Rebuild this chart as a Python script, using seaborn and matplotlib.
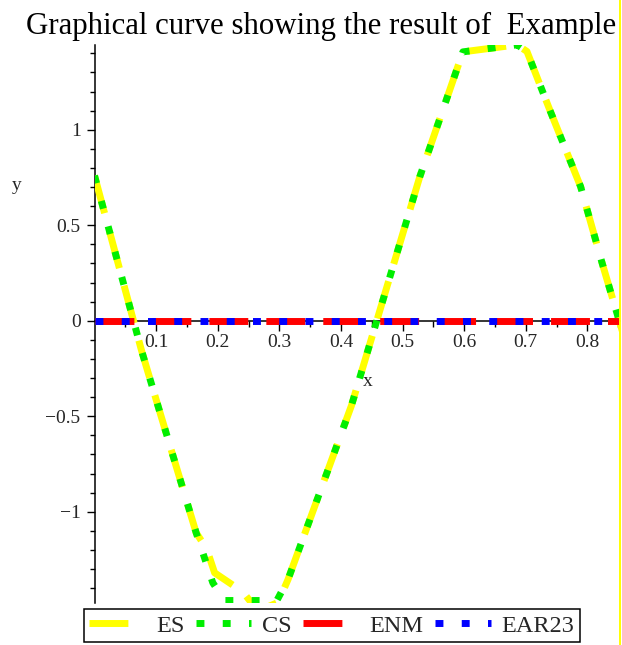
import numpy as np
import pandas as pd
import matplotlib
matplotlib.use("Agg")
import matplotlib.pyplot as plt
from matplotlib.ticker import MultipleLocator, FixedLocator
from matplotlib.lines import Line2D
import seaborn as sns

# ---------------- data ----------------
es_x = [0.000, 0.076, 0.103, 0.165, 0.182, 0.195, 0.241, 0.265, 0.298, 0.314,
        0.417, 0.528, 0.598, 0.686, 0.702, 0.740, 0.789, 0.824, 0.848, 0.862]
es_y = [0.760, -0.152, -0.445, -1.110, -1.194, -1.320, -1.420, -1.520, -1.475, -1.356,
        -0.445, 0.754, 1.408, 1.445, 1.410, 1.096, 0.703, 0.302, 0.040, -0.110]

cs_x = [0.000, 0.076, 0.103, 0.165, 0.192, 0.211, 0.250, 0.296, 0.314,
        0.417, 0.528, 0.598, 0.686, 0.702, 0.740, 0.789, 0.824, 0.848, 0.862]
cs_y = [0.760, -0.152, -0.445, -1.110, -1.372, -1.465, -1.465, -1.465, -1.356,
        -0.445, 0.754, 1.408, 1.445, 1.410, 1.096, 0.703, 0.302, 0.040, -0.110]

enm_x = [0.0, 0.2, 0.4, 0.6, 0.8, 0.862]
enm_y = [0.0, 0.0, 0.0, 0.0, 0.0, 0.0]
ear_x = [0.0, 0.2, 0.4, 0.6, 0.8, 0.862]
ear_y = [0.0, 0.0, 0.0, 0.0, 0.0, 0.0]

series_names = ["ES", "CS", "ENM", "EAR23"]
series_colors = ["#ffff00", "#00ee00", "#ff0000", "#0000ff"]

title_text = "Graphical curve showing the result of  Example"
xtick_vals = [0.1, 0.2, 0.3, 0.4, 0.5, 0.6, 0.7, 0.8]
ytick_vals = [-1, -0.5, 0, 0.5, 1]
ytick_labels = ["\u22121", "\u22120.5", "0", "0.5", "1"]

# ---------------- build long-form table ----------------
frames = []
for name, xs, ys in [("ES", es_x, es_y), ("CS", cs_x, cs_y),
                     ("ENM", enm_x, enm_y), ("EAR23", ear_x, ear_y)]:
    frames.append(pd.DataFrame({"x": xs, "y": ys, "series": name}))
df = pd.concat(frames, ignore_index=True)

sns.set_theme(style="white")
plt.rcParams["font.family"] = ["Liberation Serif", "DejaVu Serif"]
plt.rcParams["axes.unicode_minus"] = True

W, H = 622, 645
fig = plt.figure(figsize=(W / 100, H / 100), dpi=100)
ax_left, ax_right = 94.5 / W, 620 / W
ax_top, ax_bot = 45 / H, 603 / H
ax = fig.add_axes([ax_left, 1 - ax_bot, ax_right - ax_left, ax_bot - ax_top])

dash_solidish = (5.6, 2.6)
dash_dot = (1.14, 2.64)
sns.lineplot(data=df, x="x", y="y", hue="series", style="series",
             hue_order=series_names, style_order=series_names,
             palette=dict(zip(series_names, series_colors)),
             dashes={"ES": dash_solidish, "CS": dash_dot,
                     "ENM": dash_solidish, "EAR23": dash_dot},
             linewidth=5.0, estimator=None, sort=True, legend=False, ax=ax)
for ln in ax.lines:
    ln.set_zorder(3)
    ln.set_dash_capstyle("butt")
    ln.set_solid_capstyle("butt")

ax.set_xlim(0, 0.853)
ax.set_ylim(-1.478, 1.444)

for s in ["top", "right"]:
    ax.spines[s].set_visible(False)
ax.spines["bottom"].set_position(("data", 0))
for s in ["left", "bottom"]:
    ax.spines[s].set_color("black")
    ax.spines[s].set_linewidth(1.1)
    ax.spines[s].set_zorder(2.5)

ax.xaxis.set_major_locator(FixedLocator(xtick_vals))
ax.xaxis.set_minor_locator(FixedLocator([0.05 + 0.1 * i for i in range(9)]))
ax.set_xticklabels([f"{v:g}" for v in xtick_vals])
ax.yaxis.set_major_locator(FixedLocator(ytick_vals))
ax.yaxis.set_minor_locator(MultipleLocator(0.1))
ax.set_yticklabels(ytick_labels)

ax.tick_params(axis="x", which="major", direction="out", length=7.2, width=1.0,
               color="black", labelsize=14, pad=2.5, bottom=True)
ax.tick_params(axis="x", which="minor", direction="out", length=4.0, width=1.0,
               color="black", bottom=True)
ax.tick_params(axis="y", which="major", direction="out", length=6.0, width=1.0,
               color="black", labelsize=14, pad=4, left=True)
ax.tick_params(axis="y", which="minor", direction="out", length=3.4, width=1.0,
               color="black", left=True)

ax.set_xlabel("x", fontsize=14)
ax.xaxis.set_label_coords((368 - 94.5) / (620 - 94.5), (603 - 373) / 558)
ax.set_ylabel("y", fontsize=14, rotation=0, va="center", ha="center")
ax.yaxis.set_label_coords((17 - 94.5) / (620 - 94.5), (603 - 185) / 558)

fig.text(321 / W, 1 - 34 / H, title_text, ha="center", va="baseline",
         fontsize=22.2, color="black")

handles = ax.lines[:4]
leg = fig.legend(handles, series_names, ncol=4, loc="lower left",
                 bbox_to_anchor=(84 / W, 1 - 642 / H), borderaxespad=0,
                 fontsize=17.5, handlelength=2.3, handletextpad=0.45,
                 columnspacing=0.45, borderpad=0.22, frameon=True,
                 fancybox=False, framealpha=1, edgecolor="black")
leg.get_frame().set_linewidth(1.1)

# yellow border line at the right edge of the picture
fig.add_artist(Line2D([620.3 / W, 620.3 / W], [0, 1], transform=fig.transFigure,
                      color="#ffff00", linewidth=1.4))

fig.savefig("out.png", dpi=100)
